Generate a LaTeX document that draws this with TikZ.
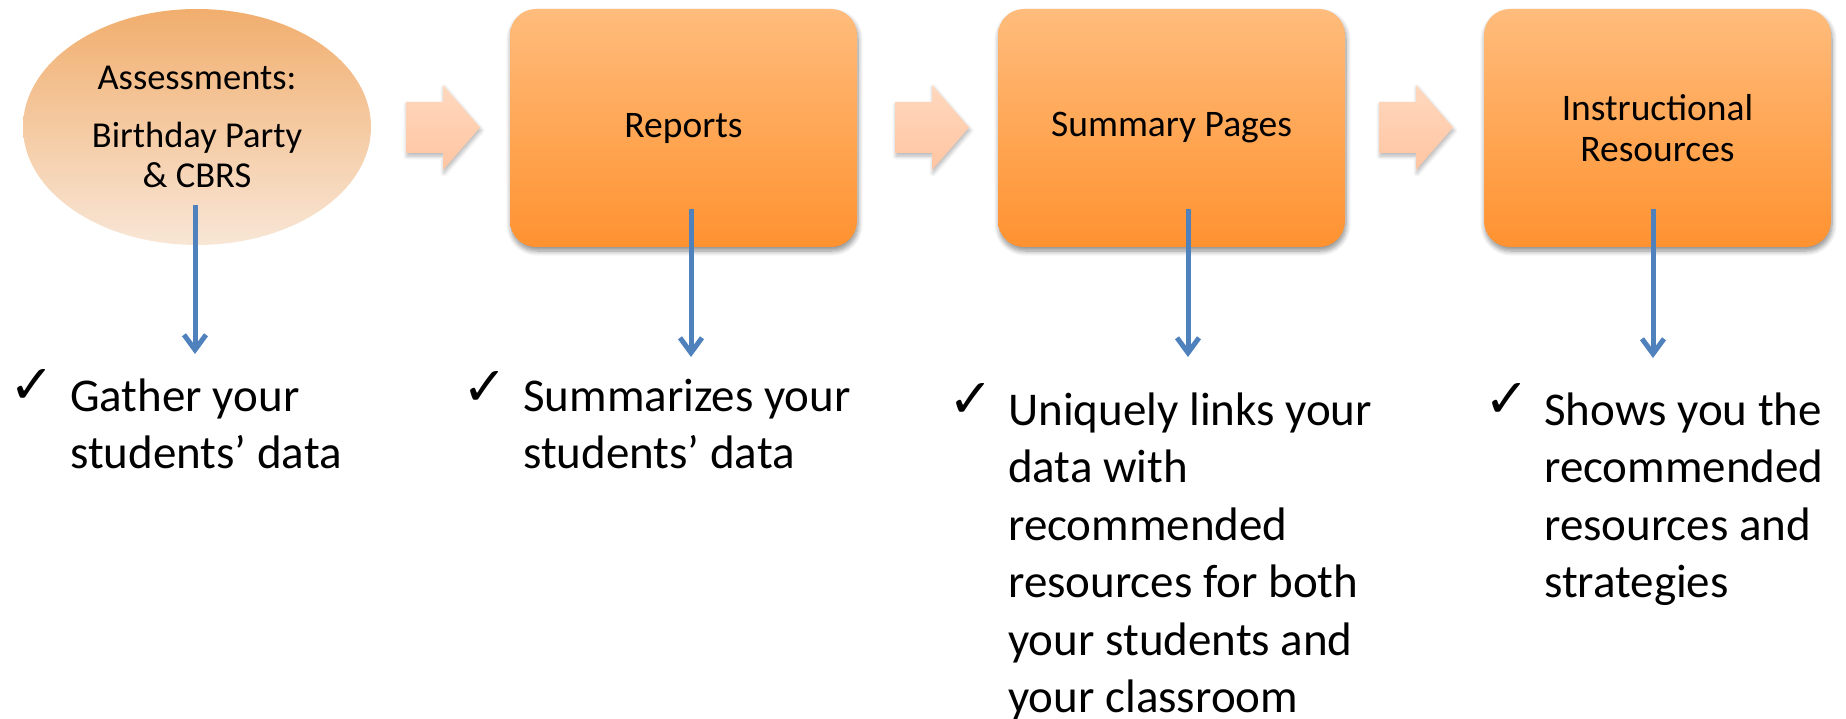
\documentclass[tikz,border=0pt]{standalone}
\usepackage{fontspec}
\setmainfont{Carlito}
\newfontfamily\symfont{DejaVu Sans}
\usetikzlibrary{arrows.meta,shapes.geometric,shadows.blur}

\definecolor{boxtop}{RGB}{255,188,124}
\definecolor{boxbot}{RGB}{255,146,48}
\definecolor{elltop}{RGB}{241,174,110}
\definecolor{ellbot}{RGB}{248,230,214}
\definecolor{arrtop}{RGB}{255,216,190}
\definecolor{arrbot}{RGB}{255,197,162}
\definecolor{linkblue}{RGB}{79,129,189}

\tikzset{
  stagebox/.style={rectangle, rounded corners=26pt, minimum width=347pt,
    minimum height=238pt, inner sep=0pt, top color=boxtop, bottom color=boxbot,
    align=center, font=\fontsize{37.5}{41}\selectfont,
    blur shadow={shadow xshift=1pt, shadow yshift=-4pt, shadow blur radius=5pt,
      shadow blur steps=8, shadow opacity=45}},
  startell/.style={ellipse, minimum width=348pt, minimum height=236pt, inner sep=0pt,
    top color=elltop, bottom color=ellbot, align=center,
    font=\fontsize{36.5}{40}\selectfont},
  flowarrow/.style={top color=arrtop, bottom color=arrbot,
    blur shadow={shadow xshift=1pt, shadow yshift=-3pt, shadow blur radius=4pt,
      shadow blur steps=6, shadow opacity=30}},
  link/.style={draw=linkblue, line width=5pt,
    -{Straight Barb[length=15pt,width=22pt]}},
  checkmark/.style={anchor=base west, inner sep=0pt, font=\symfont\fontsize{54}{54}\selectfont},
  bullettext/.style={anchor=base west, inner sep=0pt, font=\fontsize{47}{57.5}\selectfont},
  blockarrow/.pic={
    \path[flowarrow] (0,-25.5) -- (37,-25.5) -- (37,-42.5) -- (74,0) -- (37,42.5)
      -- (37,25.5) -- (0,25.5) -- cycle;
  }
}

\begin{document}
\begin{tikzpicture}[x=1pt,y=-1pt]
\useasboundingbox (0,0) rectangle (1846,719);

% stage shapes
\node[startell] (assess) at (197,127) {Assessments:\\[18pt]Birthday Party\\\& CBRS};
\node[stagebox] (rep) at (683.5,128) {Reports};
\node[stagebox] (summ) at (1171.5,128) {Summary Pages};
\node[stagebox] (instr) at (1657.5,128) {Instructional\\Resources};

% block arrows between stages
\pic at (406,127.5) {blockarrow};
\pic at (895,127.5) {blockarrow};
\pic at (1379,127.5) {blockarrow};

% blue connectors
\coordinate (s1) at (195,205);  \coordinate (e1) at (195,354);
\coordinate (s2) at (691,209);  \coordinate (e2) at (691,357);
\coordinate (s3) at (1188,209); \coordinate (e3) at (1188,357);
\coordinate (s4) at (1653,209); \coordinate (e4) at (1653,358);
\draw[link] (s1) -- (e1);
\draw[link] (s2) -- (e2);
\draw[link] (s3) -- (e3);
\draw[link] (s4) -- (e4);

% bullet texts
\node[checkmark] (k1) at (9,403) {✓};
\node[bullettext] (t1) at (70,411) {\vtop{\hbox{Gather your}\hbox{students’ data}}};
\node[checkmark] (k2) at (462,405) {✓};
\node[bullettext] (t2) at (523,411) {\vtop{\hbox{Summarizes your}\hbox{students’ data}}};
\node[checkmark] (k3) at (948,417) {✓};
\node[bullettext] (t3) at (1008,425) {\vtop{\hbox{Uniquely links your}\hbox{data with}\hbox{recommended}\hbox{resources for both}\hbox{your students and}\hbox{your classroom}}};
\node[checkmark] (k4) at (1484,417) {✓};
\node[bullettext] (t4) at (1544,425) {\vtop{\hbox{Shows you the}\hbox{recommended}\hbox{resources and}\hbox{strategies}}};
\end{tikzpicture}
\end{document}
